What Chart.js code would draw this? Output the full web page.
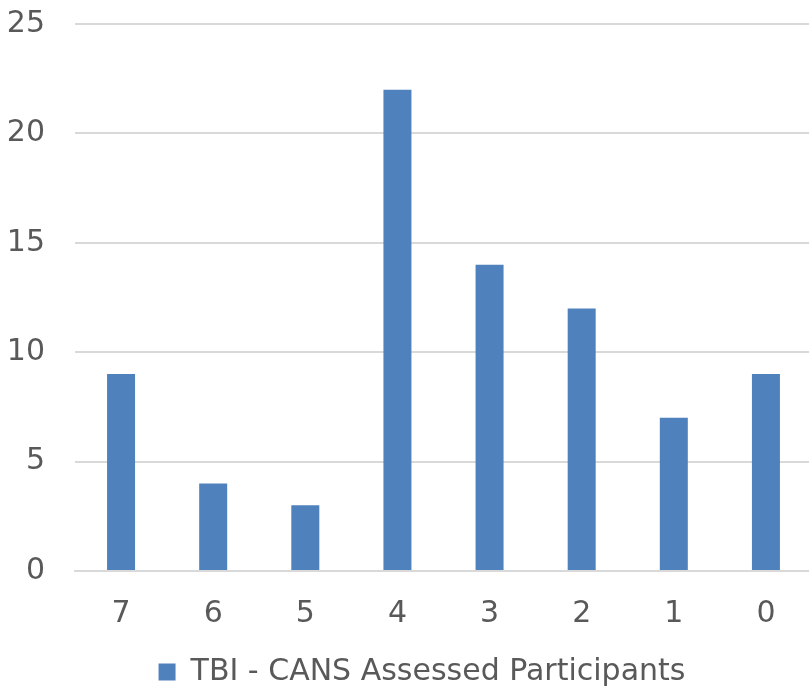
<!DOCTYPE html>
<html>
<head>
<meta charset="utf-8">
<script src="https://cdn.jsdelivr.net/npm/chart.js@4/dist/chart.umd.min.js"></script>
<style>
  html, body { margin: 0; padding: 0; background: #fff; overflow: hidden; }
  /* a bit larger than the window: the plot runs past the right edge like the original */
  #wrap { position: relative; width: 812px; height: 697px; }
</style>
</head>
<body>
<div id="wrap"><canvas id="c"></canvas></div>
<script>
/* Chart data */
const categories = ["7", "6", "5", "4", "3", "2", "1", "0"];
const participants = [9, 4, 3, 22, 14, 12, 7, 9];
const seriesLabel = "TBI - CANS Assessed Participants";

const FONT = "'DejaVu Sans', sans-serif";
const TEXT_COLOR = "#595959";

/* Legend sits slightly right of centre in the original */
const legendNudge = {
    id: "legendNudge",
    afterLayout: (chart) => {
        chart.legend.left += 16;
        chart.legend.right += 16;
    }
};

new Chart(document.getElementById("c"), {
    type: "bar",
    data: {
        labels: categories,
        datasets: [{
            label: seriesLabel,
            data: participants,
            backgroundColor: "#4f81bd",
            categoryPercentage: 1,
            barPercentage: 0.304
        }]
    },
    plugins: [legendNudge],
    options: {
        responsive: true,
        maintainAspectRatio: false,
        animation: false,
        layout: { padding: { top: 24, right: 0, left: 0, bottom: 0 } },
        plugins: {
            tooltip: { enabled: false },
            legend: {
                position: "bottom",
                labels: {
                    boxWidth: 17,
                    boxHeight: 17,
                    padding: 8,
                    color: TEXT_COLOR,
                    font: { family: FONT, size: 30 }
                }
            }
        },
        scales: {
            x: {
                grid: { display: false },
                border: { color: "#d9d9d9", width: 2 },
                ticks: {
                    color: TEXT_COLOR,
                    padding: 17,
                    font: { family: FONT, size: 30 }
                },
                afterFit: (scale) => { scale.height = 78; }
            },
            y: {
                min: 0,
                max: 25,
                ticks: {
                    stepSize: 5,
                    color: TEXT_COLOR,
                    padding: 4,
                    font: { family: FONT, size: 30 }
                },
                /* invisible tick marks keep the labels clear of the plot */
                grid: { color: "#d9d9d9", lineWidth: 2, tickLength: 26, tickColor: "rgba(0,0,0,0)" },
                border: { display: false },
                afterFit: (scale) => { scale.width = 75; }
            }
        }
    }
});
</script>
</body>
</html>
